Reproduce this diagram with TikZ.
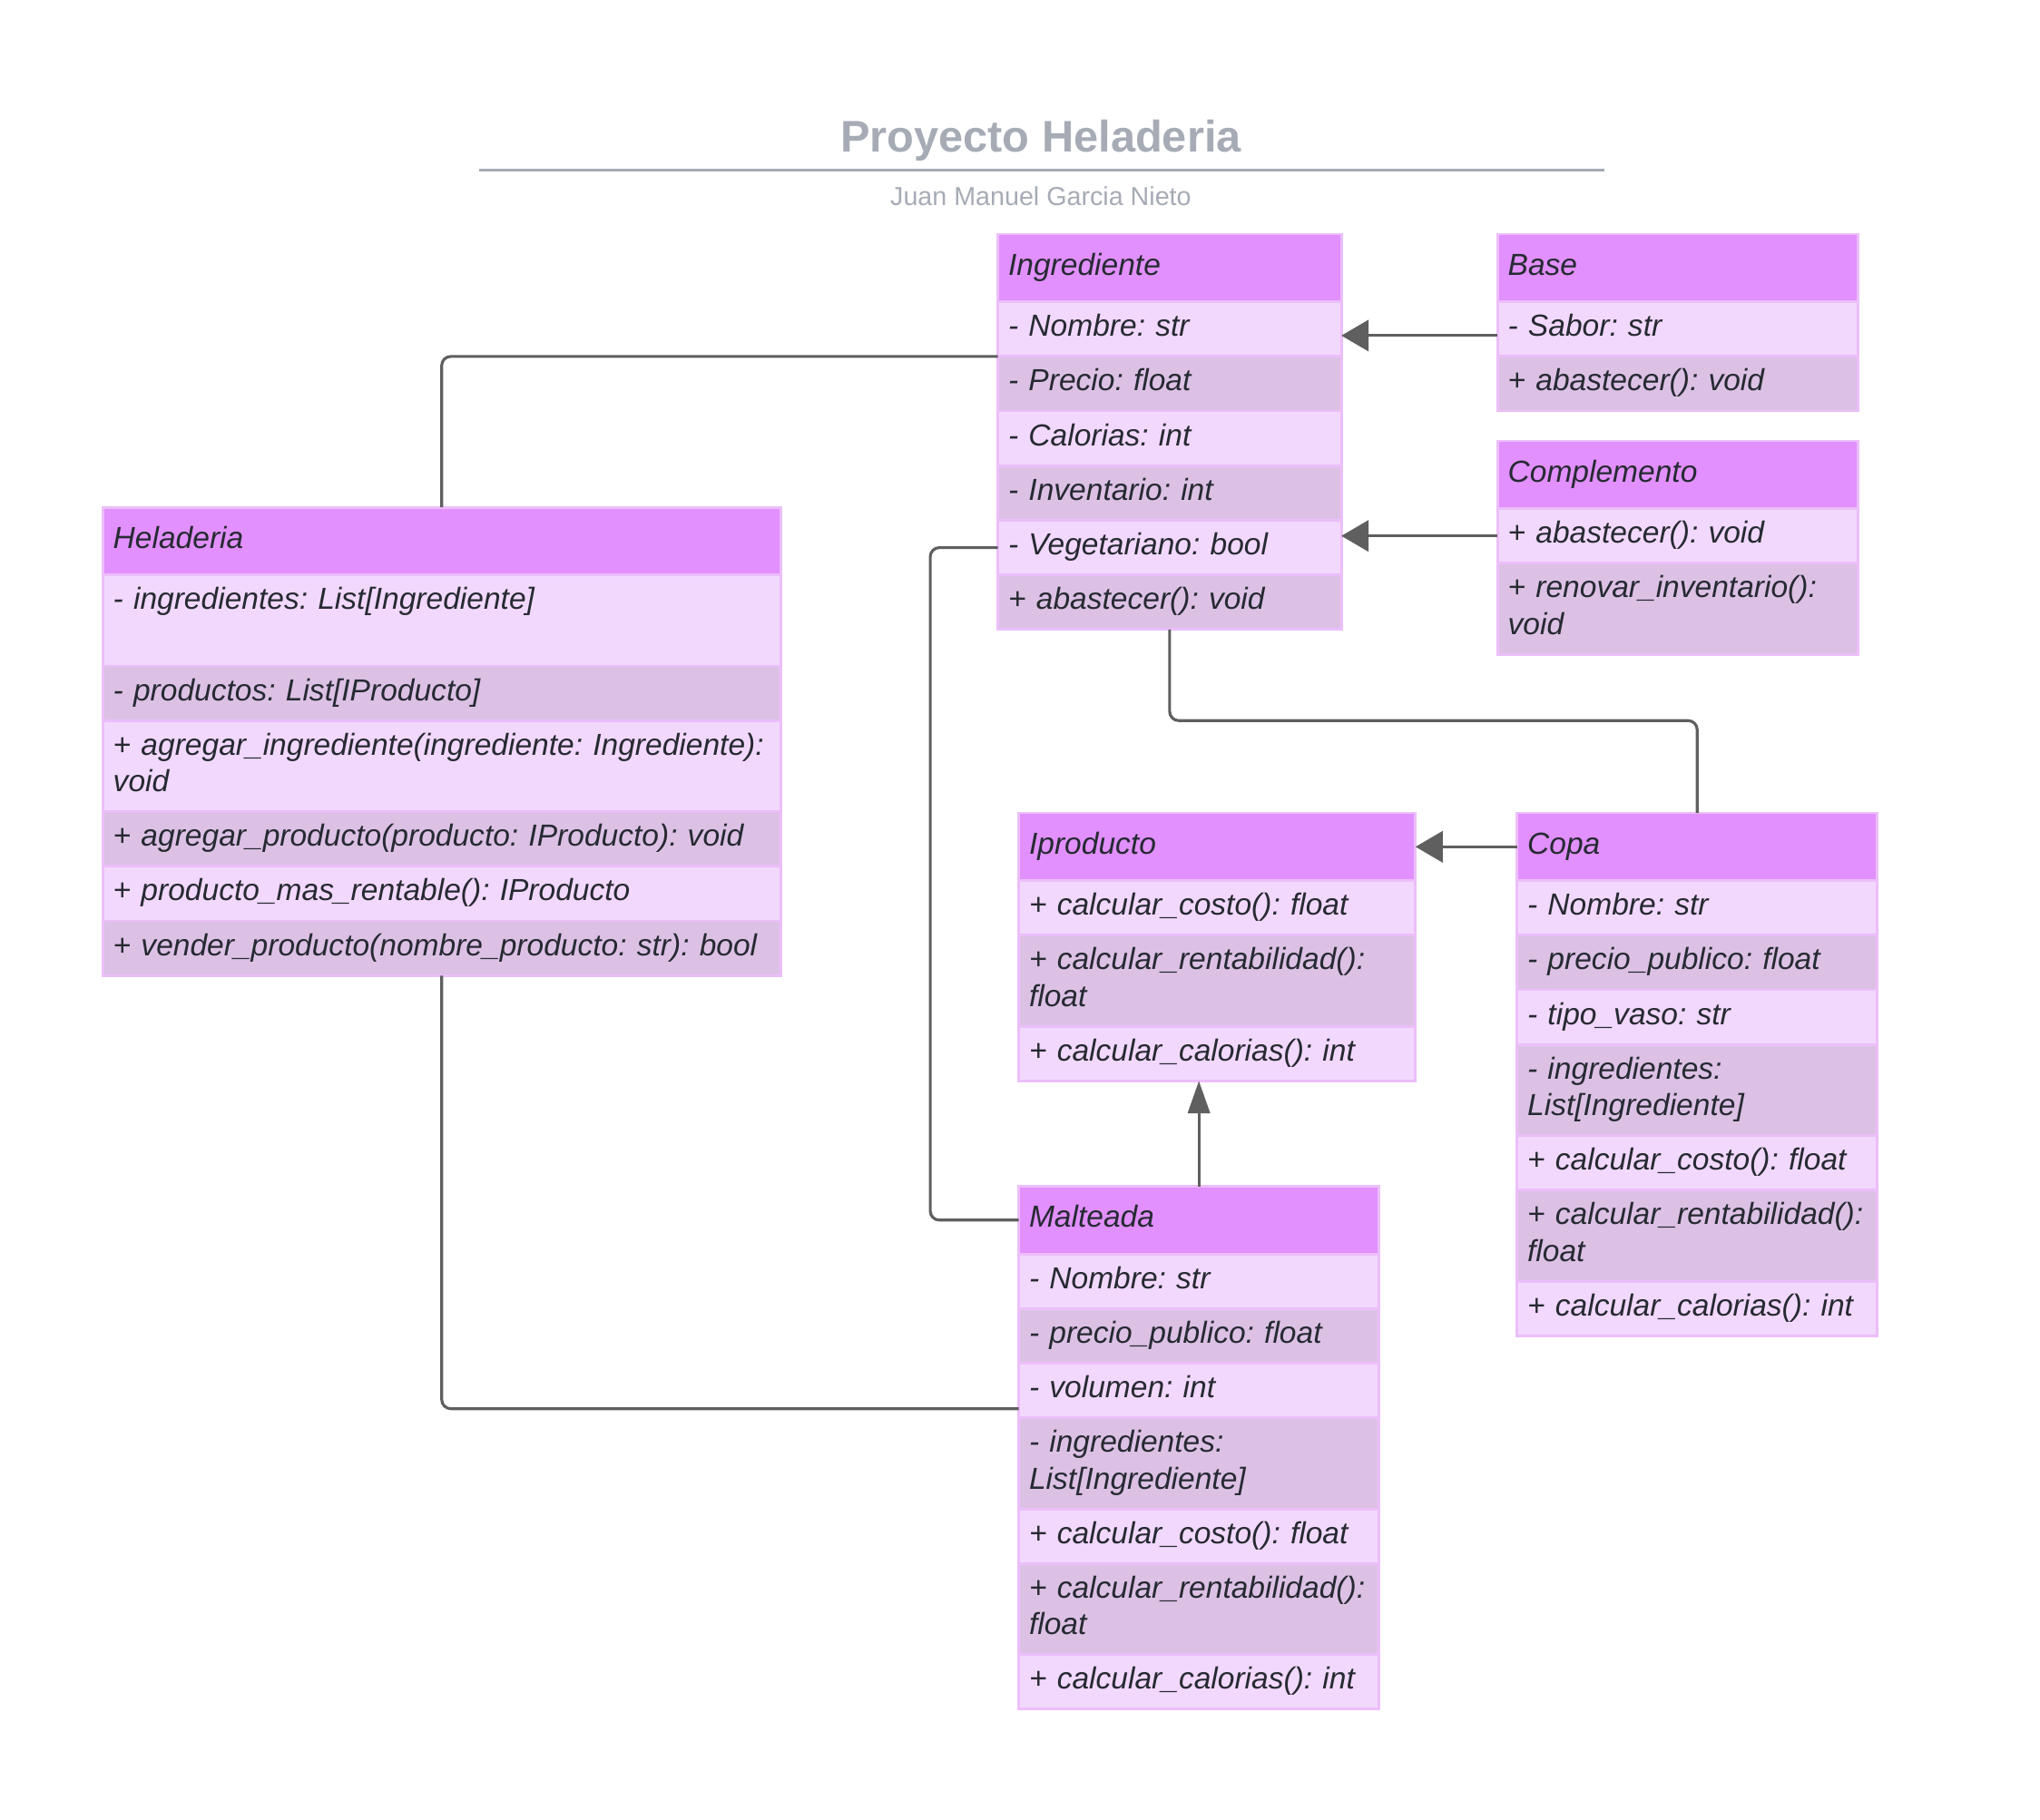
\documentclass[tikz,border=0pt]{standalone}
\usepackage{fontspec}
\setmainfont{Liberation Sans}
\usetikzlibrary{positioning,arrows.meta}
\definecolor{headpink}{HTML}{E190FD}
\definecolor{rowlight}{HTML}{F2D8FD}
\definecolor{rowdark}{HTML}{DCC1E5}
\definecolor{cellline}{HTML}{ECBEFA}
\definecolor{umltext}{HTML}{262A32}
\definecolor{linkgray}{HTML}{5F5F5F}
\definecolor{titlegray}{HTML}{A6ABB5}
\newcommand\umlfont{\fontsize{23.4}{28}\selectfont\itshape}
\frenchspacing
\begin{document}
\begin{tikzpicture}[x=1pt, y=-1pt,
  cell/.style={draw=cellline, line width=2pt, fill=rowlight, outer sep=0pt,
    inner xsep=8pt, inner ysep=0pt, minimum height=42pt, align=left,
    font=\umlfont, text=umltext, execute at begin node=\strut, execute at end node=\strut},
  head/.style={cell, fill=headpink, minimum height=52pt, anchor=north west},
  dark/.style={cell, fill=rowdark},
  tall/.style={minimum height=70pt},
  link/.style={draw=linkgray, line width=2.2pt, rounded corners=7pt},
  gen/.style={link, -{Triangle[length=21pt,width=24pt]}, fill=linkgray},
  genv/.style={link, -{Triangle[length=25pt,width=17pt]}, fill=linkgray}]
  \useasboundingbox (0,0) rectangle (1568,1399);

  % title
  \node[font=\fontsize{34}{40}\selectfont\bfseries, text=titlegray] (title) at (800,108) {Proyecto Heladeria};
  \draw[titlegray, line width=2pt] (368,131) -- (1233,131);
  \node[font=\fontsize{20}{24}\selectfont, text=titlegray] (author) at (800,151) {Juan Manuel Garcia Nieto};

  % Ingrediente
  \begin{scope}[nodes={text width=248pt}]
    \node[head] (ingr) at (767,180) {Ingrediente};
    \node[cell, below=0pt of ingr] (ingr1) {- Nombre: str};
    \node[dark, below=0pt of ingr1] (ingr2) {- Precio: float};
    \node[cell, below=0pt of ingr2] (ingr3) {- Calorias: int};
    \node[dark, below=0pt of ingr3] (ingr4) {- Inventario: int};
    \node[cell, below=0pt of ingr4] (ingr5) {- Vegetariano: bool};
    \node[dark, below=0pt of ingr5] (ingr6) {+ abastecer(): void};
  \end{scope}

  % Base y Complemento
  \begin{scope}[nodes={text width=261pt}]
    \node[head] (base) at (1151,180) {Base};
    \node[cell, below=0pt of base] (base1) {- Sabor: str};
    \node[dark, below=0pt of base1] (base2) {+ abastecer(): void};
    \node[head] (comp) at (1151,339) {Complemento};
    \node[cell, below=0pt of comp] (comp1) {+ abastecer(): void};
    \node[dark, tall, below=0pt of comp1] (comp2) {+ renovar\_inventario():\\void};
  \end{scope}

  % Heladeria
  \begin{scope}[nodes={text width=505pt}]
    \node[head] (hela) at (79,390) {Heladeria};
    \node[cell, tall, below=0pt of hela] (hela1) {- ingredientes: List[Ingrediente]\\\mbox{}};
    \node[dark, below=0pt of hela1] (hela2) {- productos: List[IProducto]};
    \node[cell, tall, below=0pt of hela2] (hela3) {+ agregar\_ingrediente(ingrediente: Ingrediente):\\void};
    \node[dark, below=0pt of hela3] (hela4) {+ agregar\_producto(producto: IProducto): void};
    \node[cell, below=0pt of hela4] (hela5) {+ producto\_mas\_rentable(): IProducto};
    \node[dark, below=0pt of hela5] (hela6) {+ vender\_producto(nombre\_producto: str): bool};
  \end{scope}

  % Iproducto
  \begin{scope}[nodes={text width=289pt}]
    \node[head] (iprod) at (783,625) {Iproducto};
    \node[cell, below=0pt of iprod] (iprod1) {+ calcular\_costo(): float};
    \node[dark, tall, below=0pt of iprod1] (iprod2) {+ calcular\_rentabilidad():\\float};
    \node[cell, below=0pt of iprod2] (iprod3) {+ calcular\_calorias(): int};
  \end{scope}

  % Copa y Malteada
  \begin{scope}[nodes={text width=261pt}]
    \node[head] (copa) at (1166,625) {Copa};
    \node[cell, below=0pt of copa] (copa1) {- Nombre: str};
    \node[dark, below=0pt of copa1] (copa2) {- precio\_publico: float};
    \node[cell, below=0pt of copa2] (copa3) {- tipo\_vaso: str};
    \node[dark, tall, below=0pt of copa3] (copa4) {- ingredientes:\\List[Ingrediente]};
    \node[cell, below=0pt of copa4] (copa5) {+ calcular\_costo(): float};
    \node[dark, tall, below=0pt of copa5] (copa6) {+ calcular\_rentabilidad():\\float};
    \node[cell, below=0pt of copa6] (copa7) {+ calcular\_calorias(): int};

    \node[head] (malt) at (783,912) {Malteada};
    \node[cell, below=0pt of malt] (malt1) {- Nombre: str};
    \node[dark, below=0pt of malt1] (malt2) {- precio\_publico: float};
    \node[cell, below=0pt of malt2] (malt3) {- volumen: int};
    \node[dark, tall, below=0pt of malt3] (malt4) {- ingredientes:\\List[Ingrediente]};
    \node[cell, below=0pt of malt4] (malt5) {+ calcular\_costo(): float};
    \node[dark, tall, below=0pt of malt5] (malt6) {+ calcular\_rentabilidad():\\float};
    \node[cell, below=0pt of malt6] (malt7) {+ calcular\_calorias(): int};
  \end{scope}

  % herencia
  \draw[gen] ([yshift=-5pt]base1.west) -- ([yshift=-5pt]ingr1.east);
  \draw[gen] (comp1.west) -- (comp1.west -| ingr.east);
  \draw[gen] (copa.west) -- (iprod.east);
  \draw[genv] (malt.north) -- (malt.north |- iprod3.south);

  % asociaciones
  \draw[link] (ingr1.south west) -| (hela.north);
  \draw[link] (ingr6.south) -- ++(0,70) -| (copa.north);
  \draw[link] (ingr5.west) -- ++(-52,0) |- (malt.west);
  \draw[link] (hela6.south) |- ([yshift=7pt]malt3.south west);
\end{tikzpicture}
\end{document}
